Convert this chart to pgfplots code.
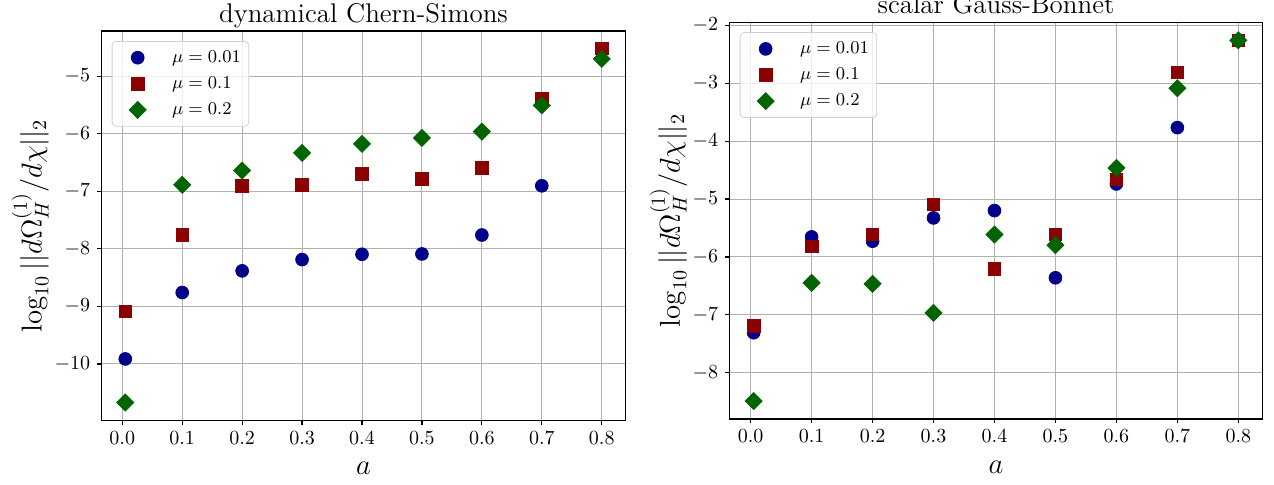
\documentclass[border=0pt]{standalone}
\usepackage{pgfplots}
\pgfplotsset{compat=1.18}
\definecolor{dblue}{RGB}{0,0,139}
\definecolor{dred}{RGB}{139,0,0}
\definecolor{dgreen}{RGB}{0,100,0}
\definecolor{gridc}{RGB}{176,176,176}
\pgfplotsset{
  myax/.style={
    scale only axis,
    xmin=-0.035, xmax=0.84,
    xtick={0,0.1,0.2,0.3,0.4,0.5,0.6,0.7,0.8},
    xticklabel style={/pgf/number format/.cd, fixed, fixed zerofill, precision=1},
    grid=major,
    major grid style={color=gridc, line width=0.5pt},
    tick align=outside, tick pos=left, major tick length=2pt,
    axis line style={line width=0.6pt},
    every tick/.style={black, line width=0.6pt},
    tick label style={font=\fontsize{10}{12}\selectfont},
    every axis title shift=0pt,
    title style={at={(0.5,1)}, anchor=base, yshift=4.4pt, font=\fontsize{13.5}{16}\selectfont},
    label style={font=\fontsize{14.4}{17}\selectfont},
    xlabel={$a$},
    xlabel style={at={(axis description cs:0.5,0)}, anchor=base, yshift=-27pt},
    ylabel={$\log_{10}||d\Omega_H^{(1)}/d\chi||_2$},
    ylabel shift=-4pt,
    legend cell align=left,
    legend image code/.code={\path[draw=none, fill=none] (0pt,-3pt) rectangle (26pt,3pt); \draw[##1, fill opacity=1, draw opacity=1] plot coordinates {(10.8pt,0pt)};},
    legend style={at={(0,1)}, anchor=north west, xshift=5.2pt, yshift=-5pt,
      draw=black!18, rounded corners=2pt, fill=white, fill opacity=0.8, text opacity=1,
      font=\fontsize{9.5}{11}\selectfont, inner xsep=2pt, inner ysep=2.5pt, row sep=1.75pt, column sep=0pt},
  },
  s1/.style={only marks, mark=*, mark size=3.2pt, color=dblue, fill=dblue},
  s2/.style={only marks, mark=square*, mark size=3.15pt, color=dred, fill=dred},
  s3/.style={only marks, mark=square*, mark size=3.0pt, mark options={rotate=45}, color=dgreen, fill=dgreen},
}
\begin{document}
\begin{tikzpicture}
\begin{axis}[myax, at={(50.65pt,31.65pt)}, anchor=south west, width=262.2pt, height=194.85pt,
  ymin=-10.986, ymax=-4.216, ytick={-10,-9,-8,-7,-6,-5},
  title={dynamical Chern-Simons}]
\addplot[s1] coordinates {(0.005,-9.913) (0.1,-8.759) (0.2,-8.383) (0.3,-8.187) (0.4,-8.095) (0.5,-8.089) (0.6,-7.76) (0.7,-6.905) (0.8,-4.55)};
\addlegendentry{$\mu = 0.01$}
\addplot[s2] coordinates {(0.005,-9.088) (0.1,-7.754) (0.2,-6.911) (0.3,-6.894) (0.4,-6.703) (0.5,-6.79) (0.6,-6.594) (0.7,-5.398) (0.8,-4.52)};
\addlegendentry{$\mu = 0.1$}
\addplot[s3] coordinates {(0.005,-10.67) (0.1,-6.888) (0.2,-6.64) (0.3,-6.334) (0.4,-6.178) (0.5,-6.074) (0.6,-5.964) (0.7,-5.508) (0.8,-4.70)};
\addlegendentry{$\mu = 0.2$}
\end{axis}
\begin{axis}[myax, at={(364.65pt,32.5pt)}, anchor=south west, width=266.7pt, height=198.4pt,
  ymin=-8.80, ymax=-1.945, ytick={-8,-7,-6,-5,-4,-3,-2},
  title={scalar Gauss-Bonnet}]
\addplot[s1] coordinates {(0.005,-7.31) (0.1,-5.654) (0.2,-5.728) (0.3,-5.326) (0.4,-5.199) (0.5,-6.361) (0.6,-4.739) (0.7,-3.766) (0.8,-2.26)};
\addlegendentry{$\mu = 0.01$}
\addplot[s2] coordinates {(0.005,-7.196) (0.1,-5.815) (0.2,-5.613) (0.3,-5.09) (0.4,-6.206) (0.5,-5.613) (0.6,-4.664) (0.7,-2.811) (0.8,-2.259)};
\addlegendentry{$\mu = 0.1$}
\addplot[s3] coordinates {(0.005,-8.49) (0.1,-6.448) (0.2,-6.465) (0.3,-6.966) (0.4,-5.613) (0.5,-5.797) (0.6,-4.463) (0.7,-3.087) (0.8,-2.259)};
\addlegendentry{$\mu = 0.2$}
\end{axis}
\pgfresetboundingbox
\path[use as bounding box] (0pt,0pt) rectangle (637pt,242pt);
\end{tikzpicture}
\end{document}
